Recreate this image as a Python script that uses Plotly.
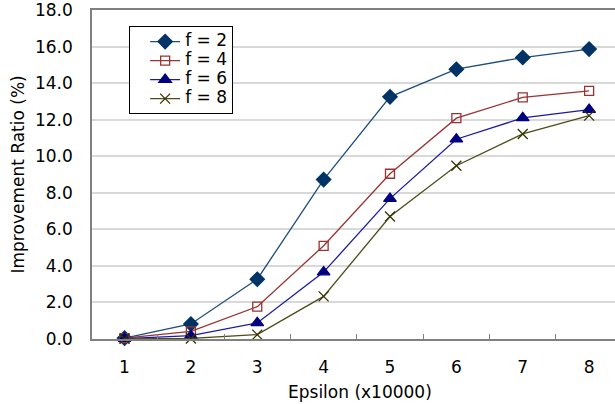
import plotly.graph_objects as go

# Improvement ratio (%) per epsilon setting, one series per f
epsilon = ["1", "2", "3", "4", "5", "6", "7", "8"]
f2 = [0.05, 0.82, 3.27, 8.72, 13.25, 14.76, 15.40, 15.86]
f4 = [0.05, 0.42, 1.77, 5.10, 9.04, 12.08, 13.22, 13.58]
f6 = [0.02, 0.18, 0.88, 3.66, 7.68, 10.93, 12.10, 12.55]
f8 = [0.01, 0.03, 0.24, 2.33, 6.70, 9.48, 11.22, 12.22]
y_ticks = [0, 2, 4, 6, 8, 10, 12, 14, 16, 18]

series = [
    ("f = 2", f2, "#1f4e7a", "#003366", "diamond", 11),
    ("f = 4", f4, "#993333", "#993333", "square-open", 9),
    ("f = 6", f6, "#1a1aa6", "#000080", "triangle-up", 11),
    ("f = 8", f8, "#4d4d1a", "#333300", "x-thin-open", 10),
]

FONT = "DejaVu Sans"

fig = go.Figure()
for name, vals, lcol, mcol, sym, size in series:
    fig.add_trace(go.Scatter(
        x=epsilon, y=vals, mode="lines+markers",
        name=f"<span style='font-size:17px'>{name}</span>",
        line=dict(color=lcol, width=1.3),
        marker=dict(symbol=sym, size=size, color=mcol,
                    line=dict(color=mcol, width=1.3)),
        cliponaxis=False,
    ))

fig.update_layout(
    width=615, height=404,
    margin=dict(l=92, r=0, t=10, b=65),
    paper_bgcolor="white", plot_bgcolor="white",
    font=dict(family=FONT, size=17, color="black"),
    showlegend=True,
    legend=dict(
        x=0.071, y=0.951, xanchor="left", yanchor="top",
        bgcolor="white", bordercolor="black", borderwidth=1,
        font=dict(family=FONT, size=12, color="black"),
        indentation=15, tracegroupgap=0,
        entrywidth=56, entrywidthmode="pixels",
    ),
    xaxis=dict(
        type="category", range=[-0.49, 7.39],
        showline=True, linecolor="#808080", linewidth=1.5, mirror=True,
        showgrid=False, tickson="boundaries",
        ticks="inside", ticklen=5, tickcolor="#808080", tickwidth=1,
        ticklabelstandoff=12,
    ),
    yaxis=dict(
        range=[0, 18], tickmode="array", tickvals=y_ticks,
        ticktext=[f"{v:.1f}" for v in y_ticks],
        ticklabeloverflow="allow",
        showline=True, linecolor="#808080", linewidth=1.5,
        showgrid=True, gridcolor="#d9d9d9", gridwidth=1.5,
        zeroline=False, ticks="", ticklabelstandoff=14,
    ),
    annotations=[
        dict(text="Epsilon (x10000)", xref="paper", yref="paper",
             x=0.513, y=-0.161, xanchor="center", yanchor="middle",
             showarrow=False, font=dict(family=FONT, size=17)),
        dict(text="Improvement Ratio (%)", xref="paper", yref="paper",
             x=-0.1415, y=0.5, xanchor="center", yanchor="middle",
             textangle=-90, showarrow=False, font=dict(family=FONT, size=17)),
    ],
)

fig.write_html("out.html")
